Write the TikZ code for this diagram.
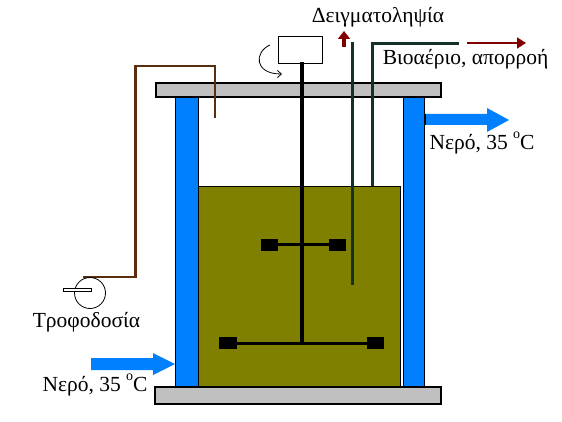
\documentclass[tikz,border=0pt]{standalone}
\usepackage{fontspec}
\setmainfont{Liberation Serif}
\usetikzlibrary{arrows.meta}
\definecolor{wallblue}{RGB}{0,128,255}
\definecolor{liquid}{RGB}{128,128,0}
\definecolor{plate}{RGB}{192,192,192}
\definecolor{tubegreen}{RGB}{20,50,40}
\definecolor{tubebrown}{RGB}{90,45,15}
\definecolor{darkred}{RGB}{128,0,0}
\newcommand{\degsup}{\raisebox{0.48em}{\fontsize{14}{16}\selectfont o}}
\tikzset{
  x=1pt,y=-1pt,
  platebox/.style={draw=black,fill=plate,line width=1.2pt},
  wallbox/.style={draw=black,fill=wallblue,line width=1pt},
  paddle/.style={fill=black,draw=none},
  shaftline/.style={draw=black,line width=3.2pt},
  tubeg/.style={draw=tubegreen,line width=3pt},
  tubeb/.style={draw=tubebrown,line width=2.8pt},
  flowarrow/.style={fill=wallblue,draw=none},
  lab/.style={font=\fontsize{21.5}{24}\selectfont,inner sep=0pt,anchor=center}
}
\begin{document}
\begin{tikzpicture}
\useasboundingbox (0,0) rectangle (562,422);
\fill[white] (0,0) rectangle (562,422);
% liquid and walls
\fill[liquid,draw=black,line width=0.8pt] (198,186) rectangle (400,387);
\draw[white,line width=2pt] (401.5,187) -- (401.5,387);
\draw[wallbox] (175,97) rectangle (198,387);
\draw[wallbox] (403,97) rectangle (424,387);
% plates
\draw[platebox] (156,83) rectangle (441,97);
\draw[platebox] (155,387) rectangle (441,404);
% stirrer
\node[draw=black,fill=white,line width=1pt,minimum width=44pt,minimum height=27pt,inner sep=0pt] (motor) at (300.5,50.5) {};
\coordinate (shafttop) at (302,62);
\coordinate (shaftbot) at (302,344);
\draw[shaftline] (shafttop) -- (shaftbot);
\node[paddle,minimum width=17pt,minimum height=12pt,inner sep=0pt] (p1) at (269.5,244.5) {};
\node[paddle,minimum width=17pt,minimum height=12pt,inner sep=0pt] (p2) at (337.5,244.5) {};
\node[paddle,minimum width=18pt,minimum height=12pt,inner sep=0pt] (p3) at (228,343) {};
\node[paddle,minimum width=17pt,minimum height=12pt,inner sep=0pt] (p4) at (375.5,343) {};
\draw[draw=black,line width=3pt] (p1) -- (p2);
\draw[draw=black,line width=3pt] (p3) -- (p4);
% rotation arrow
\coordinate (rota) at (270,45);
\coordinate (rotb) at (282,74);
\draw[black,line width=0.8pt,-{Straight Barb[length=4pt,width=7pt]}] (rota) .. controls (254,52) and (254,74) .. (rotb);
% sampling and gas tubes
\coordinate (sa) at (352,42);
\coordinate (sb) at (352,285);
\draw[tubeg] (sa) -- (sb);
\coordinate (ga) at (372,186);
\coordinate (gb) at (372,43.5);
\coordinate (gc) at (459,43.5);
\draw[tubeg,line join=miter] (ga) -- (gb) -- (gc);
% dark red arrows
\coordinate (upa) at (344,47);
\coordinate (upb) at (344,31);
\draw[darkred,line width=3.4pt,-{Triangle[length=8pt,width=12pt]}] (upa) -- (upb);
\coordinate (ra) at (467,43);
\coordinate (rb) at (526,43);
\draw[darkred,line width=1.8pt,-{Triangle[length=9pt,width=11pt]}] (ra) -- (rb);
% feed
\coordinate (fa) at (215,118);
\coordinate (fb) at (215,66);
\coordinate (fc) at (135.5,66);
\coordinate (fd) at (135.5,277);
\coordinate (fe) at (83,277);
\draw[tubeb,line join=miter] (fa) -- (fb) -- (fc) -- (fd) -- (fe);
\node[draw=black,circle,line width=0.8pt,minimum size=31pt,inner sep=0pt] (pump) at (90,293) {};
\draw[draw=black,fill=white,line width=0.7pt] (63,288) rectangle (91,291);
% water arrows
\fill[flowarrow] (91,358) -- (153,358) -- (153,353) -- (175,364) -- (153,375) -- (153,370) -- (91,370) -- cycle;
\fill[flowarrow] (425,114) -- (487,114) -- (487,108) -- (509,120) -- (487,132) -- (487,125) -- (425,125) -- cycle;
\draw[black,line width=1pt] (425,114) -- (425,125);
% labels
\node[lab] (t1) at (378,17) {Δειγματοληψία};
\node[lab] (t2) at (465.5,59) {Βιοαέριο, απορροή};
\node[lab] (t3) at (482,143) {Νερό, 35 \degsup C};
\node[lab] (t4) at (95,385) {Νερό, 35 \degsup C};
\node[lab] (t5) at (86.5,322) {Τροφοδοσία};
\end{tikzpicture}
\end{document}
